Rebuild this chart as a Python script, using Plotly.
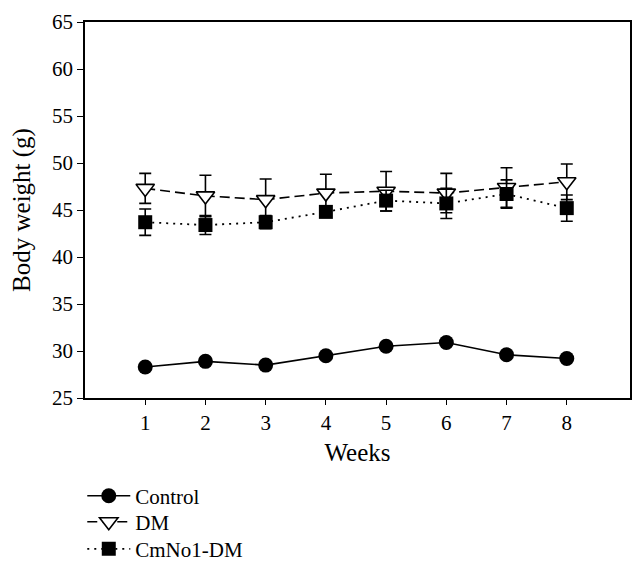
import plotly.graph_objects as go

weeks = [1, 2, 3, 4, 5, 6, 7, 8]
control = [28.3, 28.9, 28.5, 29.5, 30.5, 30.9, 29.6, 29.2]
control_err = [0.2, 0.2, 0.2, 0.2, 0.2, 0.2, 0.2, 0.2]
dm = [47.3, 46.5, 46.1, 46.8, 47.0, 46.8, 47.4, 48.0]
dm_err = [1.6, 2.2, 2.2, 2.0, 2.1, 2.1, 2.1, 1.9]
cm = [43.7, 43.4, 43.7, 44.8, 46.0, 45.7, 46.7, 45.2]
cm_err = [1.4, 1.0, 0.7, 0.5, 1.1, 1.6, 1.5, 1.4]

font = "Liberation Serif"

fig = go.Figure()
fig.add_trace(go.Scatter(
    x=weeks, y=control, name="Control", mode="lines+markers", legend="legend",
    line=dict(color="black", width=1.6),
    marker=dict(symbol="circle", size=15, color="black"),
    error_y=dict(type="data", array=control_err, color="black", thickness=1.6, width=6),
))
fig.add_trace(go.Scatter(
    x=weeks, y=dm, name="DM", mode="lines+markers", legend="legend2",
    line=dict(color="black", width=1.6, dash="10px,5px"),
    marker=dict(symbol="triangle-down", size=16, color="white",
                line=dict(color="black", width=1.6)),
    error_y=dict(type="data", array=dm_err, color="black", thickness=1.6, width=6),
))
fig.add_trace(go.Scatter(
    x=weeks, y=cm, name="CmNo1-DM", mode="lines+markers", legend="legend3",
    line=dict(color="black", width=1.8, dash="2px,5px"),
    marker=dict(symbol="square", size=14, color="black"),
    error_y=dict(type="data", array=cm_err, color="black", thickness=1.6, width=6),
))

leg = dict(x=-0.005, xanchor="left", yanchor="middle",
           bgcolor="rgba(0,0,0,0)", font=dict(size=21), itemwidth=43)

fig.update_layout(
    width=636, height=575,
    margin=dict(l=77, r=14, t=14, b=185),
    paper_bgcolor="white", plot_bgcolor="white",
    font=dict(family=font, size=21, color="black"),
    showlegend=True,
    legend=dict(leg, y=-0.261),
    legend2=dict(leg, y=-0.330),
    legend3=dict(leg, y=-0.402),
    xaxis=dict(range=[0, 9.05], tickvals=weeks, ticks="outside", ticklen=5,
               tickwidth=1.3, tickcolor="black", showgrid=False, zeroline=False,
               showline=True, linecolor="black", linewidth=1.5, mirror=True,
               automargin=False,
               title=dict(text="Weeks", standoff=10)),
    yaxis=dict(range=[25, 65], dtick=5, ticks="outside", ticklen=6,
               tickwidth=1.3, tickcolor="black", showgrid=False, zeroline=False,
               showline=True, linecolor="black", linewidth=1.5, mirror=True,
               automargin=False,
               title=dict(text="Body weight (g)", standoff=17)),
)

fig.write_html("out.html")
